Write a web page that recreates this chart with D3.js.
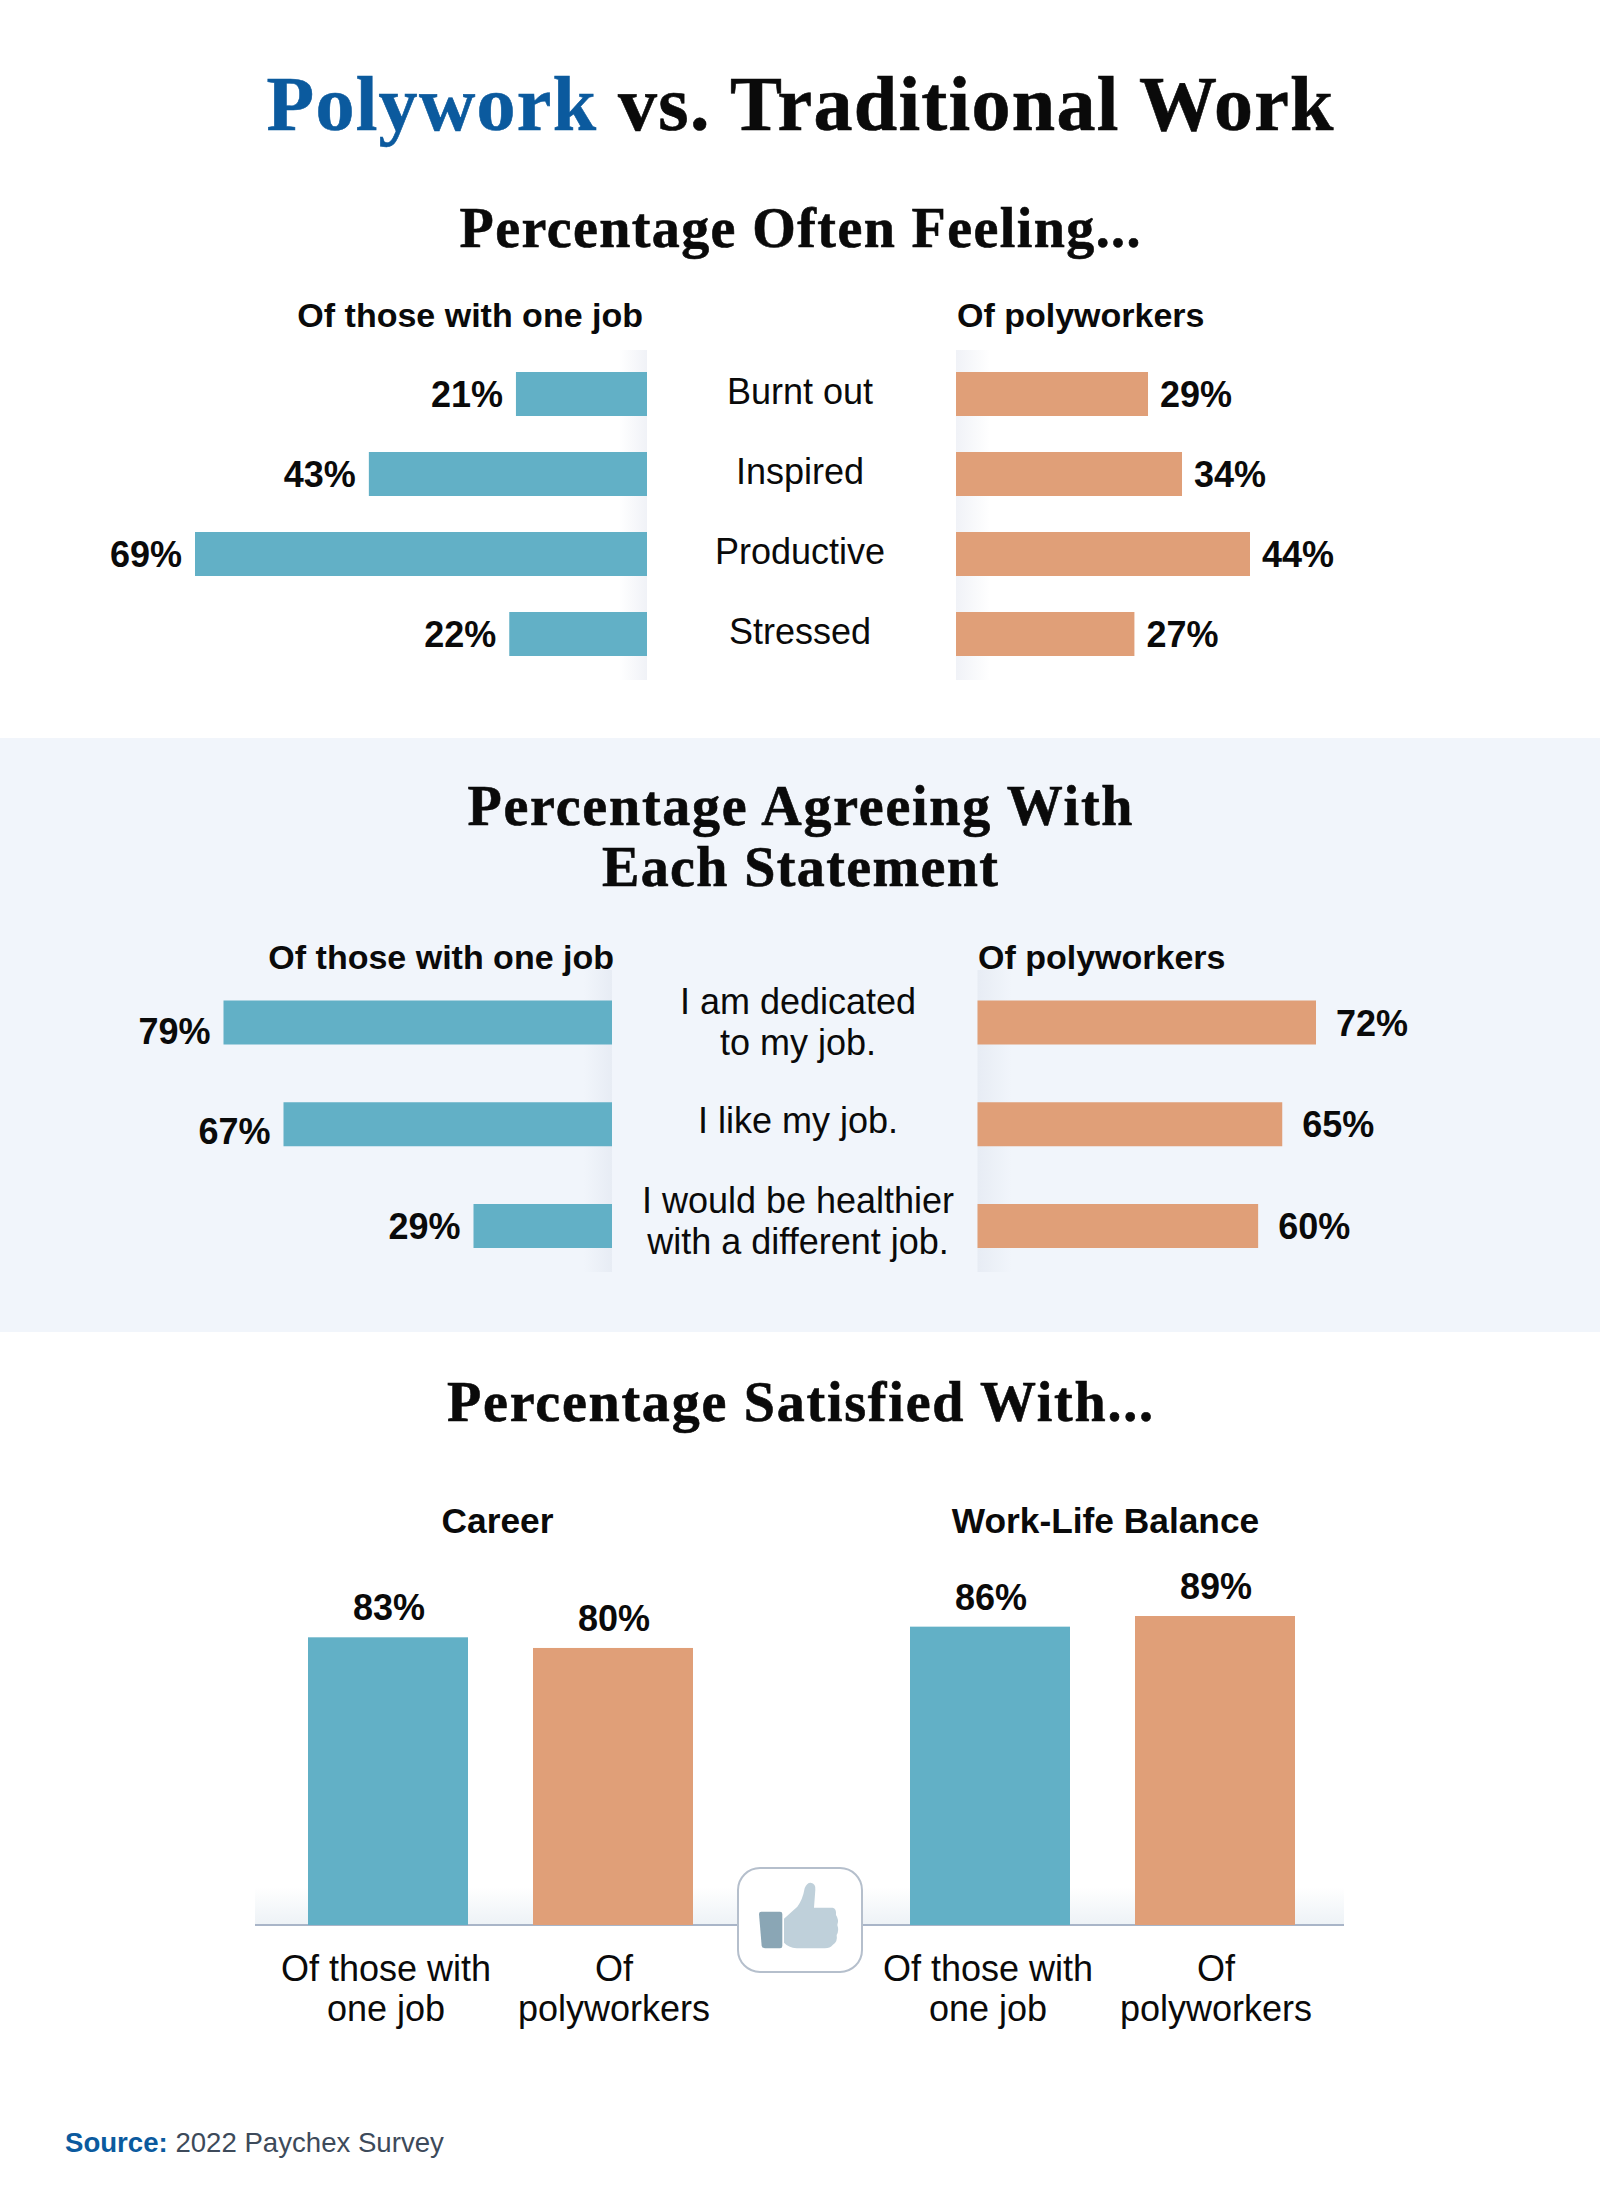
<!DOCTYPE html>
<html>
<head>
<meta charset="utf-8">
<title>Polywork vs. Traditional Work</title>
<script src="https://cdn.jsdelivr.net/npm/d3@7/dist/d3.min.js"></script>
<style>
  html, body { margin: 0; padding: 0; background: #fff; }
  svg { display: block; }
  text { font-family: "Liberation Sans", Arial, sans-serif; fill: #0a0a0a; }
  .head { font-family: "Liberation Serif", Georgia, serif; font-weight: 700; text-anchor: middle; stroke: #0a0a0a; stroke-width: 0.6px; }
  .bold { font-weight: 700; font-size: 34px; }
  .val { font-weight: 700; font-size: 36px; }
  .cat { font-size: 36px; text-anchor: middle; }
</style>
</head>
<body>
<svg id="chart" width="1600" height="2188"></svg>
<script>
var TEAL = '#62b0c6', ORANGE = '#e09f78', BLUE = '#0b5a9e';

// percentage often feeling
var feelings = ['Burnt out', 'Inspired', 'Productive', 'Stressed'];
var feelingsOneJob = [21, 43, 69, 22];
var feelingsPoly = [29, 34, 44, 27];

// percentage agreeing
var statements = ['I am dedicated\nto my job.', 'I like my job.', 'I would be healthier\nwith a different job.'];
var statementsOneJob = [79, 67, 29];
var statementsPoly = [72, 65, 60];

// percentage satisfied
var satisfiedGroups = ['Career', 'Work-Life Balance'];
var satisfiedSeries = ['Of those with\none job', 'Of\npolyworkers'];
var satisfiedOneJob = [83, 86];
var satisfiedPoly = [80, 89];

var svg = d3.select('#chart');
var defs = svg.append('defs');

function gradient(id, x2, y2, from, to) {
    var g = defs.append('linearGradient').attr('id', id)
        .attr('x1', 0).attr('y1', 0).attr('x2', x2).attr('y2', y2);
    g.append('stop').attr('offset', 0).attr('stop-color', from);
    g.append('stop').attr('offset', 1).attr('stop-color', to);
}
gradient('fade1L', 1, 0, '#ffffff', '#f0f2f7');
gradient('fade1R', 1, 0, '#f0f2f7', '#ffffff');
gradient('fade2L', 1, 0, '#f1f5fb', '#e7ecf4');
gradient('fade2R', 1, 0, '#e7ecf4', '#f1f5fb');
gradient('fadeUp', 0, 1, '#ffffff', '#edf2f6');

// blue band behind the middle section
svg.append('rect').attr('x', 0).attr('y', 738).attr('width', 1600).attr('height', 594).attr('fill', '#f1f5fb');

function lines(sel, str, x, y, step) {
    str.split('\n').forEach(function (s, i) {
        sel.append('text').attr('class', 'cat').attr('x', x).attr('y', y + i * step).text(s);
    });
}

// serif headings are stretched to the width they have in the picture
function heading(str, y, len) {
    return svg.append('text').attr('class', 'head').attr('x', 800).attr('y', y)
        .attr('textLength', len).attr('lengthAdjust', 'spacing')
        .style('font-size', '56px').text(str);
}

var title = svg.append('text').attr('class', 'head').attr('x', 800).attr('y', 130)
    .attr('textLength', 1067).attr('lengthAdjust', 'spacing')
    .style('font-size', '78px');
title.append('tspan').style('fill', BLUE).style('stroke', BLUE).text('Polywork');
title.append('tspan').text(' vs. Traditional Work');

heading('Percentage Often Feeling...', 247, 681);
heading('Percentage Agreeing With', 825, 665);
heading('Each Statement', 886, 396);
heading('Percentage Satisfied With...', 1421, 706);

function butterfly(o) {
    var g = svg.append('g');
    var y = d3.scalePoint().domain(o.cats).range(o.yRange);

    g.append('rect').attr('x', o.xL.range()[0] - 28).attr('y', o.fadeY[0]).attr('width', 28)
        .attr('height', o.fadeY[1] - o.fadeY[0]).attr('fill', 'url(#' + o.fade + 'L)');
    g.append('rect').attr('x', o.xR.range()[0]).attr('y', o.fadeY[0]).attr('width', 34)
        .attr('height', o.fadeY[1] - o.fadeY[0]).attr('fill', 'url(#' + o.fade + 'R)');

    g.append('text').attr('class', 'bold').attr('x', o.headL).attr('y', o.headY).attr('text-anchor', 'end').text('Of those with one job');
    g.append('text').attr('class', 'bold').attr('x', o.headR).attr('y', o.headY).text('Of polyworkers');

    g.selectAll('.barL').data(o.cats).enter().append('rect').attr('class', 'barL')
        .attr('x', function (d, i) { return o.xL(o.left[i]); })
        .attr('y', function (d) { return y(d) - o.barH / 2; })
        .attr('width', function (d, i) { return o.xL.range()[0] - o.xL(o.left[i]); })
        .attr('height', o.barH).attr('fill', TEAL);

    g.selectAll('.barR').data(o.cats).enter().append('rect').attr('class', 'barR')
        .attr('x', o.xR.range()[0])
        .attr('y', function (d) { return y(d) - o.barH / 2; })
        .attr('width', function (d, i) { return o.xR(o.right[i]) - o.xR.range()[0]; })
        .attr('height', o.barH).attr('fill', ORANGE);

    g.selectAll('.valL').data(o.cats).enter().append('text').attr('class', 'val')
        .attr('x', function (d, i) { return o.xL(o.left[i]) - 13; })
        .attr('y', function (d, i) { return y(d) + o.nudgeL[i]; })
        .attr('text-anchor', 'end')
        .text(function (d, i) { return o.left[i] + '%'; });

    g.selectAll('.valR').data(o.cats).enter().append('text').attr('class', 'val')
        .attr('x', function (d, i) { return o.xR(o.right[i]) + o.gapR; })
        .attr('y', function (d) { return y(d) + o.nudgeR; })
        .text(function (d, i) { return o.right[i] + '%'; });

    o.cats.forEach(function (c, i) {
        lines(g, c, o.catX, y(c) + o.catDy[i], 41);
    });
}

butterfly({
    cats: feelings, left: feelingsOneJob, right: feelingsPoly,
    xL: d3.scaleLinear().domain([1.4, 69]).range([647, 195]),
    xR: d3.scaleLinear().domain([0.76, 44]).range([956, 1250]),
    yRange: [394, 634], barH: 44, fade: 'fade1', fadeY: [350, 680],
    headL: 643, headR: 957, headY: 327, gapR: 12,
    nudgeL: [13, 13, 13, 13], nudgeR: 13, catX: 800, catDy: [10, 10, 10, 10]
});

butterfly({
    cats: statements, left: statementsOneJob, right: statementsPoly,
    xL: d3.scaleLinear().domain([1.3, 79]).range([612, 223.5]),
    xR: d3.scaleLinear().domain([1.8, 72]).range([977.5, 1316]),
    yRange: [1022.5, 1226], barH: 44, fade: 'fade2', fadeY: [970, 1272],
    headL: 614, headR: 978, headY: 969, gapR: 20,
    nudgeL: [21, 20, 13], nudgeR: 13, catX: 798, catDy: [-9, 9, -13]
});

// satisfied bars
var y3 = d3.scaleLinear().domain([2, 89]).range([1925, 1616]);
var x3 = d3.scalePoint().domain(satisfiedGroups).range([500.5, 1102.5]);
var x3s = d3.scalePoint().domain(satisfiedSeries).range([-112.5, 112.5]);
var barW = 160;

svg.append('rect').attr('x', 255).attr('y', 1887).attr('width', 1089).attr('height', 38).attr('fill', 'url(#fadeUp)');
svg.append('line').attr('x1', 255).attr('x2', 1344).attr('y1', 1925).attr('y2', 1925)
    .attr('stroke', '#a9b5c8').attr('stroke-width', 2);

satisfiedGroups.forEach(function (grp, i) {
    var g = svg.append('g').attr('transform', 'translate(' + x3(grp) + ',0)');
    g.append('text').attr('class', 'bold').attr('x', i ? 3 : -3).attr('y', 1533)
        .attr('text-anchor', 'middle').style('font-size', '35.3px').text(grp);

    [satisfiedOneJob[i], satisfiedPoly[i]].forEach(function (v, j) {
        var s = satisfiedSeries[j];
        g.append('rect').attr('x', x3s(s) - barW / 2).attr('y', y3(v))
            .attr('width', barW).attr('height', y3.range()[0] - y3(v))
            .attr('fill', j ? ORANGE : TEAL);
        g.append('text').attr('class', 'val').attr('x', x3s(s) + 1).attr('y', y3(v) - 17)
            .attr('text-anchor', 'middle').text(v + '%');
        lines(g, s, x3s(s) + (j ? 1 : -2), 1981, 40);
    });
});

// thumbs up badge
svg.append('rect').attr('x', 738).attr('y', 1868).attr('width', 124).attr('height', 104).attr('rx', 22)
    .attr('fill', '#fff').attr('stroke', '#b5bfcc').attr('stroke-width', 2);
var thumb = svg.append('g').attr('transform', 'translate(710,1840) scale(0.3333)');
thumb.append('path').attr('fill', '#8aa6b5')
    .attr('d', 'M147 222Q147 215 154 215H210Q217 215 217 222V318Q217 325 210 325H165Q157 325 155 317Z');
thumb.append('path').attr('fill', '#bfd0da')
    .attr('d', 'M222 236L262 200Q278 180 284 145Q290 128 302 128Q318 130 316 150L312 203H368Q380 205 378 225Q388 240 382 255Q388 272 380 285Q384 305 368 315Q360 325 345 325H260Q235 322 222 308Z');

// source line
var src = svg.append('text').attr('x', 65).attr('y', 2152).style('font-size', '27.6px');
src.append('tspan').style('font-weight', 700).style('fill', BLUE).text('Source:');
src.append('tspan').style('fill', '#3d4a5a').text(' 2022 Paychex Survey');
</script>
</body>
</html>
